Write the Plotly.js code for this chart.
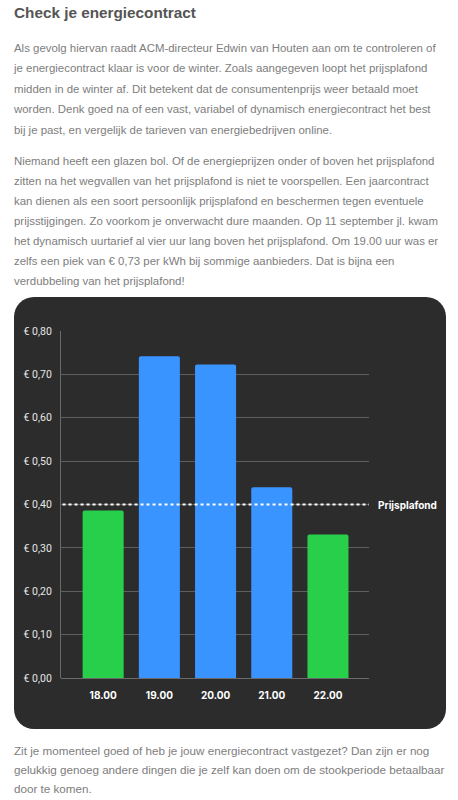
<!DOCTYPE html>
<html>
<head>
<meta charset="utf-8">
<script src="https://cdn.plot.ly/plotly-3.0.1.min.js"></script>
<style>
  html, body { margin:0; padding:0; background:#fff; width:458px; height:800px; overflow:hidden; }
  .t { position:absolute; left:14px; white-space:nowrap; font-family:"Liberation Sans", Arial, sans-serif; }
  #title { top:2px; font-size:16px; font-weight:bold; color:#555; line-height:22px; }
  .p { font-size:11.5px; color:#7d7d7d; }
  #p1 { top:38px; line-height:20.4px; }
  #p2 { top:150.5px; line-height:20.1px; }
  #p3 { top:742px; line-height:18.9px; }
  #card { position:absolute; left:14px; top:297px; width:432px; height:432px; background:#2c2c2c; border-radius:20px; overflow:hidden; }
  #chart { position:absolute; left:0; top:0; width:432px; height:432px; }
  .line { display:inline-block; }
</style>
</head>
<body>
<div class="t" id="title"><span class="line">Check je energiecontract</span></div>
<div class="t p" id="p1"><span class="line">Als gevolg hiervan raadt ACM-directeur Edwin van Houten aan om te controleren of</span><br>je energiecontract klaar is voor de winter. Zoals aangegeven loopt het prijsplafond<br>midden in de winter af. Dit betekent dat de consumentenprijs weer betaald moet<br>worden. Denk goed na of een vast, variabel of dynamisch energiecontract het best<br>bij je past, en vergelijk de tarieven van energiebedrijven online.</div>
<div class="t p" id="p2"><span class="line">Niemand heeft een glazen bol. Of de energieprijzen onder of boven het prijsplafond</span><br>zitten na het wegvallen van het prijsplafond is niet te voorspellen. Een jaarcontract<br>kan dienen als een soort persoonlijk prijsplafond en beschermen tegen eventuele<br>prijsstijgingen. Zo voorkom je onverwacht dure maanden. Op 11 september jl. kwam<br>het dynamisch uurtarief al vier uur lang boven het prijsplafond. Om 19.00 uur was er<br>zelfs een piek van € 0,73 per kWh bij sommige aanbieders. Dat is bijna een<br>verdubbeling van het prijsplafond!</div>
<div id="card"><div id="chart"></div></div>
<div class="t p" id="p3"><span class="line">Zit je momenteel goed of heb je jouw energiecontract vastgezet? Dan zijn er nog</span><br>gelukkig genoeg andere dingen die je zelf kan doen om de stookperiode betaalbaar<br>door te komen.</div>
<script>
// fit text blocks so that their first line spans the same width as in the reference
function fit(id, target) {
  const el = document.getElementById(id);
  const span = el.querySelector(".line");
  const fs = parseFloat(getComputedStyle(el).fontSize);
  const w = span.getBoundingClientRect().width;
  el.style.fontSize = (fs * target / w) + "px";
}
fit("title", 182);
fit("p1", 422);
fit("p2", 421);
fit("p3", 416);

// ---- data ----
const hours = ["18.00", "19.00", "20.00", "21.00", "22.00"];
const prices = [0.386, 0.742, 0.723, 0.440, 0.331];
const priceCap = 0.40;
const capLabel = "Prijsplafond";
const yTickValues = [0, 0.1, 0.2, 0.3, 0.4, 0.5, 0.6, 0.7, 0.8];
const yTickLabels = ["€ 0,00", "€ 0,10", "€ 0,20", "€ 0,30", "€ 0,40", "€ 0,50", "€ 0,60", "€ 0,70", "€ 0,80"];

const GREEN = "#28cf4b", BLUE = "#3a94ff";
const barColors = prices.map(v => v > priceCap ? BLUE : GREEN);

const trace = {
  type: "bar",
  x: hours.map((h, i) => i),
  y: prices,
  marker: { color: barColors, cornerradius: 2, line: { width: 0 } },
  hoverinfo: "none"
};

const layout = {
  width: 432, height: 432,
  paper_bgcolor: "rgba(0,0,0,0)",
  plot_bgcolor: "rgba(0,0,0,0)",
  margin: { l: 47, r: 77, t: 34, b: 51, pad: 0 },
  showlegend: false,
  bargap: 0.27,
  xaxis: {
    range: [-0.75, 4.73],
    tickmode: "array",
    tickvals: hours.map((h, i) => i),
    ticktext: hours,
    showgrid: false,
    zeroline: false,
    showline: false,
    ticks: "",
    ticklabelstandoff: 10,
    tickfont: { family: "Inter, 'Open Sans', sans-serif", size: 10, color: "#ffffff", weight: 700 }
  },
  yaxis: {
    range: [0, 0.8],
    tickmode: "array",
    tickvals: yTickValues,
    ticktext: yTickLabels,
    showgrid: true,
    gridcolor: "#5e5e5e",
    gridwidth: 1,
    zeroline: true,
    zerolinecolor: "#6a6a6a",
    zerolinewidth: 1,
    showline: true,
    linecolor: "#6a6a6a",
    linewidth: 1,
    ticks: "",
    ticklabelstandoff: 6,
    tickfont: { family: "Roboto, 'Open Sans', sans-serif", size: 10.5, color: "#e6e6e6" }
  },
  shapes: [{
    type: "line", xref: "paper", yref: "y",
    x0: 0.005, x1: 1, y0: priceCap, y1: priceCap,
    line: { color: "#ffffff", width: 2, dash: "dot" }
  }],
  annotations: [{
    xref: "paper", yref: "y", x: 1, y: priceCap,
    xanchor: "left", yanchor: "middle", xshift: 7,
    text: capLabel, showarrow: false,
    font: { family: "Inter, 'Open Sans', sans-serif", size: 10, color: "#ffffff", weight: 700 }
  }]
};

Plotly.newPlot("chart", [trace], layout, { staticPlot: true, displayModeBar: false });
</script>
</body>
</html>
